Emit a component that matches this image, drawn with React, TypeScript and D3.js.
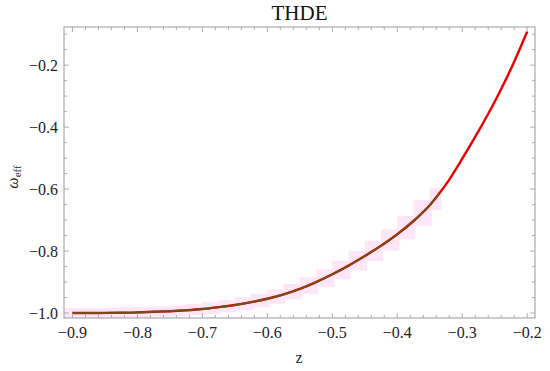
import React from "react";
import * as d3 from "d3";

// THDE model, effective equation of state vs redshift
const zValues = [
  -0.9, -0.875, -0.85, -0.825, -0.8, -0.775, -0.75, -0.725, -0.7, -0.675, -0.65, -0.625, -0.6, -0.575, -0.55,
  -0.525, -0.5, -0.475, -0.45, -0.425, -0.4, -0.375, -0.35, -0.325, -0.3, -0.275, -0.25, -0.225, -0.2,
];
const omegaTHDE = [
  -1.0, -1.0, -0.9995, -0.999, -0.998, -0.996, -0.994, -0.991, -0.987, -0.981, -0.974, -0.965, -0.954, -0.94, -0.922,
  -0.9, -0.875, -0.847, -0.816, -0.783, -0.746, -0.703, -0.652, -0.585, -0.502, -0.413, -0.318, -0.212, -0.092,
];

// second (overlaid) curve, stops before the end
const zFit = [
  -0.9, -0.875, -0.85, -0.825, -0.8, -0.775, -0.75, -0.725, -0.7, -0.675, -0.65, -0.625, -0.6, -0.575, -0.55,
  -0.525, -0.5, -0.475, -0.45, -0.425, -0.4, -0.375, -0.35, -0.335,
];
const omegaFit = [
  -1.0, -1.0, -0.9995, -0.999, -0.998, -0.996, -0.994, -0.991, -0.987, -0.981, -0.974, -0.965, -0.954, -0.94, -0.922,
  -0.9, -0.875, -0.847, -0.816, -0.783, -0.746, -0.703, -0.652, -0.612,
];

const xTicks = [-0.9, -0.8, -0.7, -0.6, -0.5, -0.4, -0.3, -0.2];
const yTicks = [-1.0, -0.8, -0.6, -0.4, -0.2];

const width = 550;
const height = 371;
const frame = { left: 64, right: 535, top: 27, bottom: 318 };
const frameColor = "#9a9a9a";
const font = "Liberation Serif, Times New Roman, serif";

const fmt = (v: number) => (v < 0 ? "\u2212" : "") + Math.abs(v).toFixed(1);

const App = () => {
  const x = d3.scaleLinear().domain([-0.913, -0.188]).range([frame.left, frame.right]);
  const y = d3.scaleLinear().domain([-1.016, -0.077]).range([frame.bottom, frame.top]);

  const line = d3
    .line<number>()
    .x((_, i) => x(zValues[i]))
    .y((d) => y(d))
    .curve(d3.curveMonotoneX);

  const fitLine = d3
    .line<number>()
    .x((_, i) => x(zFit[i]))
    .y((d) => y(d))
    .curve(d3.curveMonotoneX);

  const xMinor = d3.range(-0.9, -0.19, 0.02).map((v) => +v.toFixed(2));
  const yMinor = d3.range(-1.0, -0.09, 0.05).map((v) => +v.toFixed(2));

  // pinkish stepped band behind the fitted curve
  const pad = 5;
  const bands = zFit.slice(0, -1).map((z0, i) => {
    const z1 = zFit[i + 1];
    const top = y(Math.max(omegaFit[i], omegaFit[i + 1])) - pad;
    const bottom = Math.min(y(Math.min(omegaFit[i], omegaFit[i + 1])) + pad, frame.bottom);
    return { x0: i === 0 ? frame.left : x(z0), x1: x(z1) + 2, top, bottom };
  });

  return (
    <svg
      width={width}
      height={height}
      style={{ position: "absolute", left: 0, top: 0, background: "#fff" }}
    >
      <defs>
        <clipPath id="plotClip">
          <rect x={frame.left} y={frame.top} width={frame.right - frame.left} height={frame.bottom - frame.top} />
        </clipPath>
      </defs>

      <g clipPath="url(#plotClip)">
        {bands.map((b, i) => (
          <rect key={i} x={b.x0} y={b.top} width={b.x1 - b.x0} height={b.bottom - b.top} fill="#fde6f8" />
        ))}
        <path d={line(omegaTHDE) || ""} fill="none" stroke="#ee0000" strokeWidth={2.4} />
        <path d={fitLine(omegaFit) || ""} fill="none" stroke="#7a4a14" strokeWidth={2} />
      </g>

      {/* frame */}
      <rect
        x={frame.left}
        y={frame.top}
        width={frame.right - frame.left}
        height={frame.bottom - frame.top}
        fill="none"
        stroke={frameColor}
        strokeWidth={1}
      />

      {/* ticks on all four sides */}
      {xMinor.map((v) => {
        const major = xTicks.some((t) => Math.abs(t - v) < 1e-6);
        const len = major ? 5 : 3;
        return (
          <g key={"xm" + v} stroke={frameColor} strokeWidth={0.8}>
            <line x1={x(v)} x2={x(v)} y1={frame.bottom} y2={frame.bottom - len} />
            <line x1={x(v)} x2={x(v)} y1={frame.top} y2={frame.top + len} />
          </g>
        );
      })}
      {yMinor.map((v) => {
        const major = yTicks.some((t) => Math.abs(t - v) < 1e-6);
        const len = major ? 5 : 3;
        return (
          <g key={"ym" + v} stroke={frameColor} strokeWidth={0.8}>
            <line x1={frame.left} x2={frame.left + len} y1={y(v)} y2={y(v)} />
            <line x1={frame.right} x2={frame.right - len} y1={y(v)} y2={y(v)} />
          </g>
        );
      })}

      {xTicks.map((v) => (
        <text key={"xl" + v} x={x(v)} y={338} textAnchor="middle" fontFamily={font} fontSize={16} fill="#222">
          {fmt(v)}
        </text>
      ))}
      {yTicks.map((v) => (
        <text key={"yl" + v} x={58} y={y(v)} dy="0.35em" textAnchor="end" fontFamily={font} fontSize={16} fill="#222">
          {fmt(v)}
        </text>
      ))}

      <text x={(frame.left + frame.right) / 2} y={20} textAnchor="middle" fontFamily={font} fontSize={21} fill="#111">
        THDE
      </text>
      <text x={299} y={363} textAnchor="middle" fontFamily={font} fontSize={16} fill="#222">
        z
      </text>
      <text transform="translate(18,177) rotate(-90)" textAnchor="middle" fontFamily={font} fontSize={16} fill="#222">
        <tspan fontStyle="italic">ω</tspan>
        <tspan fontSize={11} dy={3}>eff</tspan>
      </text>
    </svg>
  );
};

export default App;
